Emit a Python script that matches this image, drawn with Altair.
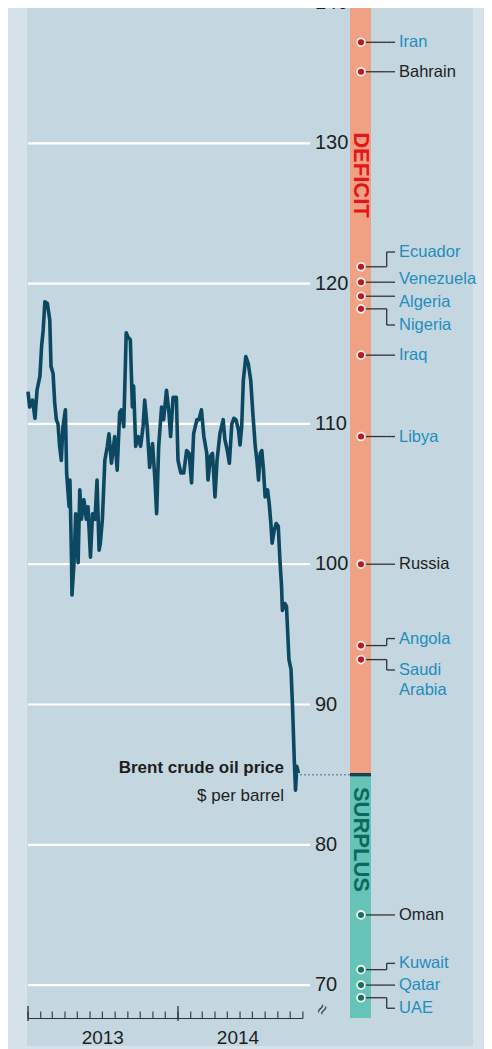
import altair as alt
import pandas as pd

# ---------------- data ----------------
dates = ["2013-01-01","2013-01-05","2013-01-12","2013-01-18","2013-01-23","2013-01-30","2013-02-03","2013-02-07","2013-02-11","2013-02-17",
         "2013-02-23","2013-02-26","2013-03-03","2013-03-07","2013-03-11","2013-03-15","2013-03-19","2013-03-23","2013-03-27","2013-04-02",
         "2013-04-05","2013-04-11","2013-04-13","2013-04-17","2013-04-18","2013-04-23","2013-04-27","2013-05-03","2013-05-07","2013-05-11",
         "2013-05-17","2013-05-23","2013-05-27","2013-06-02","2013-06-07","2013-06-13","2013-06-18","2013-06-23","2013-06-26","2013-07-01",
         "2013-07-07","2013-07-13","2013-07-17","2013-07-23","2013-07-31","2013-08-06","2013-08-12","2013-08-16","2013-08-22","2013-08-28",
         "2013-09-01","2013-09-07","2013-09-12","2013-09-15","2013-09-20","2013-09-26","2013-10-02","2013-10-08","2013-10-12","2013-10-18",
         "2013-10-24","2013-10-31","2013-11-06","2013-11-10","2013-11-15","2013-11-22","2013-11-27","2013-12-04","2013-12-10","2013-12-14",
         "2013-12-20","2013-12-28",
         "2014-01-01","2014-01-08","2014-01-15","2014-01-22","2014-01-28","2014-02-03","2014-02-08","2014-02-16","2014-02-21","2014-02-27",
         "2014-03-05","2014-03-12","2014-03-15","2014-03-21","2014-03-26","2014-04-01","2014-04-06","2014-04-13","2014-04-21","2014-04-25",
         "2014-05-01","2014-05-06","2014-05-12","2014-05-17","2014-05-22","2014-05-28","2014-06-01","2014-06-05","2014-06-09","2014-06-15",
         "2014-06-21","2014-06-27","2014-07-02","2014-07-08","2014-07-12","2014-07-16","2014-07-20","2014-07-24","2014-07-28","2014-08-01",
         "2014-08-07","2014-08-11","2014-08-15","2014-08-18","2014-08-23","2014-08-28","2014-09-02","2014-09-06","2014-09-10","2014-09-12",
         "2014-09-18","2014-09-22","2014-09-28","2014-10-03","2014-10-07","2014-10-11","2014-10-14","2014-10-17","2014-10-21"]
prices = [112.3,111.2,111.7,110.4,112.4,113.4,115.5,116.7,118.7,118.6,
          117.4,114.1,113.6,111.5,110.3,110.0,108.4,107.4,109.8,111.0,
          106.5,104.1,106.0,100.1,97.8,100.1,103.6,100.1,105.3,103.2,
          104.6,103.2,104.1,100.5,103.6,103.2,106.0,101.0,101.5,103.2,
          107.4,108.4,109.3,107.2,109.1,106.7,110.8,111.0,109.8,116.5,
          116.2,116.0,111.2,112.7,108.4,109.1,108.4,109.8,111.7,109.8,
          106.9,108.6,106.0,103.6,108.4,111.2,110.3,112.4,110.8,109.1,
          111.9,111.9,
          107.4,106.5,106.5,108.1,107.9,105.8,109.3,110.3,110.3,111.0,
          109.1,107.9,106.0,107.7,107.9,104.8,107.4,109.3,110.3,108.9,
          108.1,107.2,110.0,110.4,110.3,109.6,108.5,109.8,113.1,114.8,
          114.3,113.1,110.8,108.4,107.4,106.0,107.9,108.1,106.7,104.8,
          105.3,104.3,102.9,101.5,102.4,102.9,102.7,100.3,98.4,96.7,
          97.2,97.0,93.2,92.5,89.6,86.0,83.9,85.6,85.1]

countries = ["Iran", "Bahrain", "Ecuador", "Venezuela", "Algeria", "Nigeria", "Iraq", "Libya",
             "Russia", "Angola", "Saudi Arabia", "Oman", "Kuwait", "Qatar", "UAE"]
breakeven = [137.2, 135.1, 121.2, 120.1, 119.1, 118.2, 114.9, 109.1,
             100.0, 94.2, 93.2, 75.0, 71.1, 70.0, 69.1]
# where each leader line ends, and where each name sits (same value scale)
link_at = [137.2, 135.1, 122.25, 120.1, 119.1, 117.05, 114.9, 109.1,
           100.0, 94.7, 92.46, 75.0, 71.55, 70.0, 68.35]
text_at = [137.2, 135.1, 122.25, 120.33, 118.7, 117.05, 114.9, 109.1,
           100.0, 94.7, 92.46, 75.0, 71.55, 70.0, 68.35]
opec = [True, False, True, True, True, True, True, True,
        False, True, True, False, True, True, True]

grid_values = [70, 80, 90, 100, 110, 120, 130, 140]
year_labels = ["2013", "2014"]
year_label_dates = ["2013-07-02", "2014-05-27"]
year_ticks = ["2013-01-01", "2014-01-01"]
month_ticks = list(pd.date_range("2013-01-01", "2014-11-01", freq="MS").strftime("%Y-%m-%d"))
axis_start, axis_end = "2013-01-01", "2014-11-01"
current_price = 85.0
bar_top, bar_bottom = 140.0, 67.65

# ---------------- styles ----------------
BG = "#d6e2e9"
PANEL = "#c4d6df"
LINE = "#0d4862"
ORANGE = "#f0a183"
TEAL = "#66c3b7"
RED = "#c0141e"
DTEAL = "#0e7565"
BLUE = "#1f8dbd"
DARK = "#1e1e1e"
SANS = "Liberation Sans, Arial, sans-serif"

yscale = alt.Scale(domain=[70, 140], range=[977.1, -5], nice=False, zero=False)
xscale = alt.Scale(domain=[alt.DateTime(year=2013, month=1, date=1, utc=True),
                           alt.DateTime(year=2014, month=1, date=1, utc=True)],
                   range=[20, 170], nice=False)


def Y(field):
    return alt.Y(field, type="quantitative", scale=yscale, axis=None)


def X(field):
    return alt.X(field, type="temporal", scale=xscale, axis=None)


price_df = pd.DataFrame({"date": dates, "price": prices})
c_df = pd.DataFrame({"country": countries, "breakeven": breakeven,
                     "link_at": link_at, "text_at": text_at, "opec": opec})
c_df["display"] = c_df["country"].str.replace(" ", "\n")
grid_df = pd.DataFrame({"v": grid_values})
bar_df = pd.DataFrame({"top": [bar_top, current_price],
                       "bottom": [current_price, bar_bottom],
                       "zone": ["deficit", "surplus"]})
cp_df = pd.DataFrame({"p": [current_price]})
one = pd.DataFrame({"a": [0]})

panel = alt.Chart(one).mark_rect(color=PANEL).encode(
    x=alt.value(19), x2=alt.value(465), y=alt.value(-8), y2=alt.value(1038))

grid = alt.Chart(grid_df).mark_rule(color="white", strokeWidth=2.2).encode(
    x=alt.value(20), x2=alt.value(302), y=Y("v"))

grid_labels = alt.Chart(grid_df).mark_text(
    align="left", baseline="middle", font=SANS, fontSize=20, color=DARK).encode(
    x=alt.value(307), y=Y("v"), text="v:Q")

bar = alt.Chart(bar_df).mark_rect().encode(
    x=alt.value(342), x2=alt.value(363), y=Y("top"), y2="bottom:Q",
    color=alt.Color("zone:N", scale=alt.Scale(domain=["deficit", "surplus"], range=[ORANGE, TEAL]),
                    legend=None))

divider = alt.Chart(cp_df).mark_rule(color="#17434e", strokeWidth=3.4).encode(
    x=alt.value(342), x2=alt.value(363), y=Y("p"))

dotted = alt.Chart(cp_df).mark_rule(color="#6f8fa0", strokeDash=[2, 2], strokeWidth=1.5).encode(
    x=alt.value(292), x2=alt.value(342), y=Y("p"))

line = alt.Chart(price_df).mark_line(color=LINE, strokeWidth=3.6, strokeJoin="round").encode(
    x=X("date"), y=Y("price"))

axis_line = alt.Chart(pd.DataFrame({"s": [axis_start], "e": [axis_end]})).mark_rule(
    color="#333333", strokeWidth=1.2).encode(x=X("s"), x2="e:T", y=alt.value(1010.5))

minor_ticks = alt.Chart(pd.DataFrame({"m": month_ticks})).mark_rule(
    color="#333333", strokeWidth=1.1).encode(x=X("m"), y=alt.value(1003.5), y2=alt.value(1010.5))

major_ticks = alt.Chart(pd.DataFrame({"m": year_ticks})).mark_rule(
    color="#333333", strokeWidth=1.3).encode(x=X("m"), y=alt.value(998), y2=alt.value(1013))

year_text = alt.Chart(pd.DataFrame({"d": year_label_dates, "t": year_labels})).mark_text(
    font=SANS, fontSize=19, color=DARK, align="center", baseline="middle").encode(
    x=X("d"), y=alt.value(1030), text="t:N")

conn_a = alt.Chart(c_df).mark_rule(color="#333333", strokeWidth=1.3).encode(
    x=alt.value(353), x2=alt.value(378.7), y=Y("breakeven"))
conn_b = alt.Chart(c_df).mark_rule(color="#333333", strokeWidth=1.3).encode(
    x=alt.value(378.7), y=Y("breakeven"), y2="link_at:Q")
conn_c = alt.Chart(c_df).mark_rule(color="#333333", strokeWidth=1.3).encode(
    x=alt.value(378.7), x2=alt.value(387), y=Y("link_at"))

dots = alt.Chart(c_df).mark_circle(size=62, opacity=1, stroke="#fbeee6", strokeWidth=1.8).encode(
    x=alt.value(353), y=Y("breakeven"),
    color=alt.condition("datum.breakeven > 85", alt.value(RED), alt.value(DTEAL)))

labels = alt.Chart(c_df).mark_text(
    align="left", baseline="top", dy=-8, lineBreak="\n", lineHeight=20,
    font=SANS, fontSize=16.5).encode(
    x=alt.value(391), y=Y("text_at"), text="display:N",
    color=alt.condition("datum.opec", alt.value(BLUE), alt.value(DARK)))

deficit = alt.Chart(one).mark_text(
    text="DEFICIT", angle=90, align="center", baseline="middle", font=SANS,
    fontWeight="bold", fontSize=22, color="#e4151c").encode(
    x=alt.value(353), y=alt.datum(127.74, scale=yscale))

surplus = alt.Chart(one).mark_text(
    text="SURPLUS", angle=90, align="center", baseline="middle", font=SANS,
    fontWeight="bold", fontSize=22, color="#0b6a60").encode(
    x=alt.value(353), y=alt.datum(80.38, scale=yscale))

brent1 = alt.Chart(one).mark_text(
    text="Brent crude oil price", align="right", baseline="middle", font=SANS,
    fontWeight="bold", fontSize=17, color=DARK).encode(x=alt.value(276), y=alt.value(760))
brent2 = alt.Chart(one).mark_text(
    text="$ per barrel", align="right", baseline="middle", font=SANS,
    fontSize=17, color=DARK).encode(x=alt.value(276), y=alt.value(788))

brk = alt.Chart(one).mark_text(
    text="≈", angle=300, align="center", baseline="middle", font=SANS,
    fontSize=18, color="#333333").encode(x=alt.value(315), y=alt.value(1002))

chart = alt.layer(
    panel, grid, grid_labels, bar, dotted, divider, line,
    axis_line, minor_ticks, major_ticks, year_text,
    conn_a, conn_b, conn_c, dots, labels, deficit, surplus, brent1, brent2, brk
).properties(
    width=476, height=1041, padding=0,
    autosize=alt.AutoSizeParams(type="none"),
    background=BG,
).configure_view(strokeWidth=0)

chart.save("out.html", embed_options={"renderer": "svg", "actions": False})
